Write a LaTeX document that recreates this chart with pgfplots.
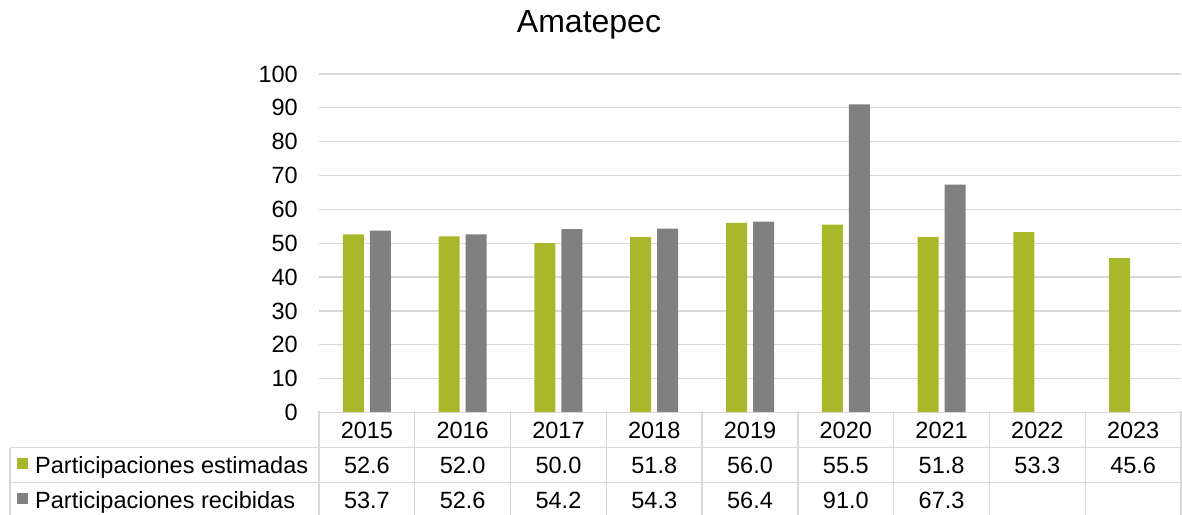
\documentclass[border=0pt]{standalone}
\usepackage{fontspec}
\setmainfont{Liberation Sans}
\usepackage{pgfplots}
\pgfplotsset{compat=1.18}
\definecolor{barG}{HTML}{A9B82A}
\definecolor{barK}{HTML}{808080}
\definecolor{gridc}{HTML}{D9D9D9}
\newcommand{\tf}{\fontsize{23.5}{27}\selectfont}
\begin{document}
\begin{tikzpicture}[x=1pt,y=1pt]
\useasboundingbox (0,0) rectangle (1182,514);
\begin{axis}[
  at={(319pt,101.5pt)}, anchor=south west,
  scale only axis, width=862pt, height=338.5pt,
  xmin=-0.5, xmax=8.5, ymin=0, ymax=100,
  xtick=\empty, ytick={0,10,...,100},
  ymajorgrids, grid style={color=gridc, line width=1.3pt},
  axis line style={draw=none},
  major tick length=0pt,
  /pgf/number format/assume math mode=true,
  tick label style={font=\tf},
  yticklabel style={inner sep=0pt, xshift=-21pt},
  ybar=6pt, bar width=21pt,
  clip=false,
]
\addplot[fill=barG, draw=none] coordinates {(0,52.6) (1,52.0) (2,50.0) (3,51.8) (4,56.0) (5,55.5) (6,51.8) (7,53.3) (8,45.6)};
\addplot[fill=barK, draw=none] coordinates {(0,53.7) (1,52.6) (2,54.2) (3,54.3) (4,56.4) (5,91.0) (6,67.3)};
\end{axis}
% data table
\draw[gridc, line width=1.3pt] (319,101.5) -- (1181,101.5);
\draw[gridc, line width=1.3pt] (10,66.5) -- (1181,66.5);
\draw[gridc, line width=1.3pt] (10,31.5) -- (1181,31.5);
\draw[gridc, line width=1.3pt] (10,66.5) -- (10,-5);
\foreach \k in {0,...,9} {
  \draw[gridc, line width=1.3pt] ({319+95.78*\k},103) -- ({319+95.78*\k},-5);
}
\foreach \y [count=\i from 0] in {2015,2016,2017,2018,2019,2020,2021,2022,2023} {
  \node[anchor=base, inner sep=0pt, font=\tf] at ({319+95.78*\i+47.89},76) {\y};
}
\foreach \v [count=\i from 0] in {52.6,52.0,50.0,51.8,56.0,55.5,51.8,53.3,45.6} {
  \node[anchor=base, inner sep=0pt, font=\tf] at ({319+95.78*\i+47.89},41) {\v};
}
\foreach \v [count=\i from 0] in {53.7,52.6,54.2,54.3,56.4,91.0,67.3} {
  \node[anchor=base, inner sep=0pt, font=\tf] at ({319+95.78*\i+47.89},6) {\v};
}
\fill[barG] (17,45.5) rectangle (28,56.5);
\fill[barK] (17,10.5) rectangle (28,21.5);
\node[anchor=base west, inner sep=0pt, font=\tf] at (35,41) {Participaciones estimadas};
\node[anchor=base west, inner sep=0pt, font=\tf] at (35,6) {Participaciones recibidas};
\node[anchor=base, inner sep=0pt, font=\fontsize{32}{38}\selectfont] at (589,481) {Amatepec};
\end{tikzpicture}
\end{document}
